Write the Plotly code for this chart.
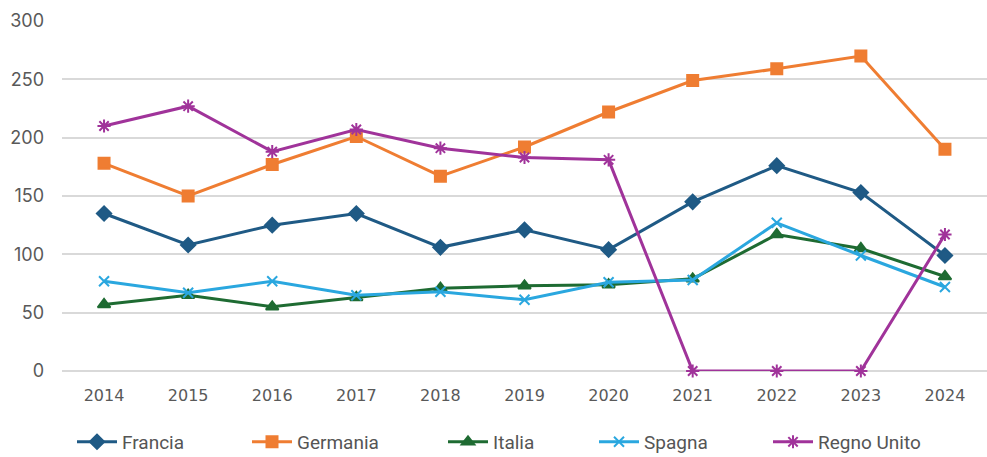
import plotly.graph_objects as go

years = ["2014", "2015", "2016", "2017", "2018", "2019", "2020", "2021", "2022", "2023", "2024"]
francia = [135, 108, 125, 135, 106, 121, 104, 145, 176, 153, 99]
germania = [178, 150, 177, 201, 167, 192, 222, 249, 259, 270, 190]
italia = [57, 65, 55, 63, 71, 73, 74, 79, 117, 105, 81]
spagna = [77, 67, 77, 65, 68, 61, 76, 78, 127, 99, 72]
regno_unito = [210, 227, 188, 207, 191, 183, 181, 0, 0, 0, 117]

series = [
    ("Francia", francia, "#1f5a85", "diamond", 11, "legend"),
    ("Germania", germania, "#ef7d32", "square", 11, "legend2"),
    ("Italia", italia, "#1e6b32", "triangle-up", 11, "legend3"),
    ("Spagna", spagna, "#2aa7df", "x-thin-open", 10, "legend4"),
    ("Regno Unito", regno_unito, "#a0339a", "asterisk-open", 11, "legend5"),
]
legend_x_px = [72, 247, 443, 594, 768]

fig = go.Figure()
for name, vals, color, sym, size, lg in series:
    fig.add_trace(go.Scatter(
        x=years, y=vals, name=name, mode="lines+markers",
        line=dict(color=color, width=3),
        marker=dict(symbol=sym, size=size, color=color,
                    line=dict(color=color, width=2)),
        cliponaxis=False, legend=lg,
    ))

legend_common = dict(orientation="h", xref="container", yref="container",
                     y=0.033, yanchor="middle", xanchor="left", itemwidth=40,
                     font=dict(family="Roboto, sans-serif", size=19, color="#555555"),
                     bgcolor="rgba(0,0,0,0)")
legends = {}
for i, px in enumerate(legend_x_px):
    key = "legend" if i == 0 else f"legend{i + 1}"
    legends[key] = dict(legend_common, x=px / 987)

fig.update_layout(
    width=987, height=457,
    margin=dict(l=62, r=0, t=21, b=86, autoexpand=False),
    paper_bgcolor="white", plot_bgcolor="white",
    font=dict(family="Inter, Roboto, sans-serif", color="#595959", size=16),
    xaxis=dict(type="category", range=[-0.5, 10.5], showgrid=False,
               showline=False, ticks="",
               tickfont=dict(family="DejaVu Sans, sans-serif", size=16, color="#595959"),
               ticklabelstandoff=13),
    yaxis=dict(range=[0, 300], dtick=50, showgrid=True, gridcolor="#d9d9d9",
               gridwidth=1.5, zeroline=True, zerolinecolor="#d9d9d9", zerolinewidth=1.5,
               showline=False, ticks="",
               tickfont=dict(family="Inter, Roboto, sans-serif", size=18, color="#595959"),
               ticklabelstandoff=17),
    showlegend=True,
    **legends,
)

fig.write_html("out.html")
